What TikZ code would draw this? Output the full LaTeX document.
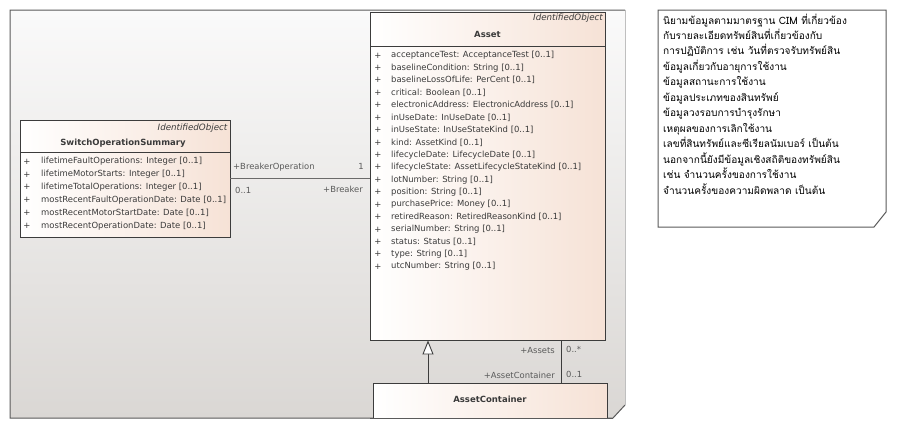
\documentclass[tikz,border=0pt]{standalone}
\usepackage{fontspec}
\setmainfont{DejaVu Sans}
\newfontfamily\thaifont[Script=Thai]{Loma}
\usetikzlibrary{arrows.meta}

\definecolor{panelTop}{HTML}{FAFAFA}
\definecolor{panelBot}{HTML}{DAD7D4}
\definecolor{frameGray}{HTML}{5A5A5A}
\definecolor{classLeft}{HTML}{FFFFFF}
\definecolor{classRight}{HTML}{F6E2D6}
\definecolor{classEdge}{HTML}{3C3C3C}
\definecolor{attrText}{HTML}{3A3A3A}
\definecolor{roleText}{HTML}{5A5A5A}
\definecolor{linkGray}{HTML}{6A6A6A}

\tikzset{
  classbox/.style={draw=classEdge, line width=0.9pt, left color=classLeft, right color=classRight, inner sep=0pt},
  stereo/.style={font=\fontsize{8.7}{9}\selectfont\itshape, text=attrText, inner sep=0pt},
  classname/.style={font=\fontsize{8.5}{10}\selectfont\bfseries, text=attrText, inner sep=0pt},
  attr/.style={font=\fontsize{8.45}{10}\selectfont, text=attrText, anchor=west, inner sep=0pt},
  vis/.style={font=\fontsize{8.45}{10}\selectfont, text=attrText, anchor=center, inner sep=0pt},
  role/.style={font=\fontsize{8.4}{10}\selectfont, text=roleText, inner sep=0pt},
  link/.style={draw=linkGray, line width=0.9pt},
}

\begin{document}
\begin{tikzpicture}[x=1pt, y=-1pt]
\useasboundingbox (0,0) rectangle (897,429);

% diagram frame with folded corner
\path[top color=panelTop, bottom color=panelBot]
  (10,10) -- (625,10) -- (625,405) -- (613,418) -- (10,418) -- cycle;
\draw[frameGray, line width=1pt] (625,10) -- (10,10) -- (10,418) -- (613,418) -- (625,405);
\draw[black!25, line width=0.6pt] (625,10) -- (625,405);

% SwitchOperationSummary class
\node[classbox, minimum width=210pt, minimum height=117pt] (sos) at (125,178.5) {};
\draw[classEdge, line width=0.9pt] (20,152) -- (230,152);
\node[stereo, anchor=east] (sosst) at (227.5,128) {IdentifiedObject};
\node[classname] (sosname) at (123,143) {SwitchOperationSummary};
\foreach \t [count=\i from 0] in {
  lifetimeFaultOperations: Integer [0..1],
  lifetimeMotorStarts: Integer [0..1],
  lifetimeTotalOperations: Integer [0..1],
  mostRecentFaultOperationDate: Date [0..1],
  mostRecentMotorStartDate: Date [0..1],
  mostRecentOperationDate: Date [0..1]}{
  \node[vis] (sosv\i) at (27,161.5+12.9*\i) {+};
  \node[attr] (sosa\i) at (41,161.5+12.9*\i) {\t};
}

% Asset class
\node[classbox, minimum width=235pt, minimum height=328pt] (asset) at (487.5,176) {};
\draw[classEdge, line width=0.9pt] (370,46) -- (605,46);
\node[stereo, anchor=east] (assetst) at (603,18) {IdentifiedObject};
\node[classname] (assetname) at (487.5,34.5) {Asset};
\foreach \t [count=\i from 0] in {
  acceptanceTest: AcceptanceTest [0..1],
  baselineCondition: String [0..1],
  baselineLossOfLife: PerCent [0..1],
  critical: Boolean [0..1],
  electronicAddress: ElectronicAddress [0..1],
  inUseDate: InUseDate [0..1],
  inUseState: InUseStateKind [0..1],
  kind: AssetKind [0..1],
  lifecycleDate: LifecycleDate [0..1],
  lifecycleState: AssetLifecycleStateKind [0..1],
  lotNumber: String [0..1],
  position: String [0..1],
  purchasePrice: Money [0..1],
  retiredReason: RetiredReasonKind [0..1],
  serialNumber: String [0..1],
  status: Status [0..1],
  type: String [0..1],
  utcNumber: String [0..1]}{
  \node[vis] (assetv\i) at (378,55.5+12.42*\i) {+};
  \node[attr] (asseta\i) at (391,55.5+12.42*\i) {\t};
}

% AssetContainer class (cut by the frame)
\node[classbox, minimum width=234pt, minimum height=35pt] (container) at (490,400.5) {};
\node[classname] (containername) at (490,399) {AssetContainer};
\draw[frameGray, line width=1pt] (370,418) -- (613,418);

% association SwitchOperationSummary -- Asset
\draw[link] (sos.east) -- (sos.east -| asset.west);
\node[role, anchor=west] (r1) at (233,167.5) {+BreakerOperation};
\node[role, anchor=east] (m1) at (364,166.5) {1};
\node[role, anchor=west] (m2) at (235,190) {0..1};
\node[role, anchor=east] (r2) at (363,189) {+Breaker};

% generalization AssetContainer -> Asset
\coordinate (genfoot) at (428,383);
\draw[classEdge, line width=0.9pt, -{Triangle[open, length=14pt, width=11pt, line width=0.9pt, fill=white]}]
  (genfoot) -- (genfoot |- asset.south);

% association Asset -- AssetContainer
\coordinate (assoc) at (561,0);
\draw[classEdge, line width=0.9pt] (assoc |- asset.south) -- (assoc |- container.north);
\node[role, anchor=east] (r3) at (555,350.5) {+Assets};
\node[role, anchor=west] (m3) at (566,349.5) {0..*};
\node[role, anchor=east] (r4) at (555,375) {+AssetContainer};
\node[role, anchor=west] (m4) at (566,374.5) {0..1};

% note
\path[fill=white, draw=frameGray, line width=1pt]
  (658,10) -- (886,10) -- (886,212) -- (874,227) -- (658,227) -- cycle;
\node[anchor=north west, align=left, inner sep=0pt,
      font=\thaifont\fontsize{10.1}{15.45}\selectfont] (notetext) at (663,13.5) {%
นิยามข้อมูลตามมาตรฐาน CIM ที่เกี่ยวข้อง\\
กับรายละเอียดทรัพย์สินที่เกี่ยวข้องกับ\\
การปฏิบัติการ เช่น วันที่ตรวจรับทรัพย์สิน\\
ข้อมูลเกี่ยวกับอายุการใช้งาน\\
ข้อมูลสถานะการใช้งาน\\
ข้อมูลประเภทของสินทรัพย์\\
ข้อมูลวงรอบการบำรุงรักษา\\
เหตุผลของการเลิกใช้งาน\\
เลขที่สินทรัพย์และซีเรียลนัมเบอร์ เป็นต้น\\
นอกจากนี้ยังมีข้อมูลเชิงสถิติของทรัพย์สิน\\
เช่น จำนวนครั้งของการใช้งาน\\
จำนวนครั้งของความผิดพลาด เป็นต้น};

\end{tikzpicture}
\end{document}
